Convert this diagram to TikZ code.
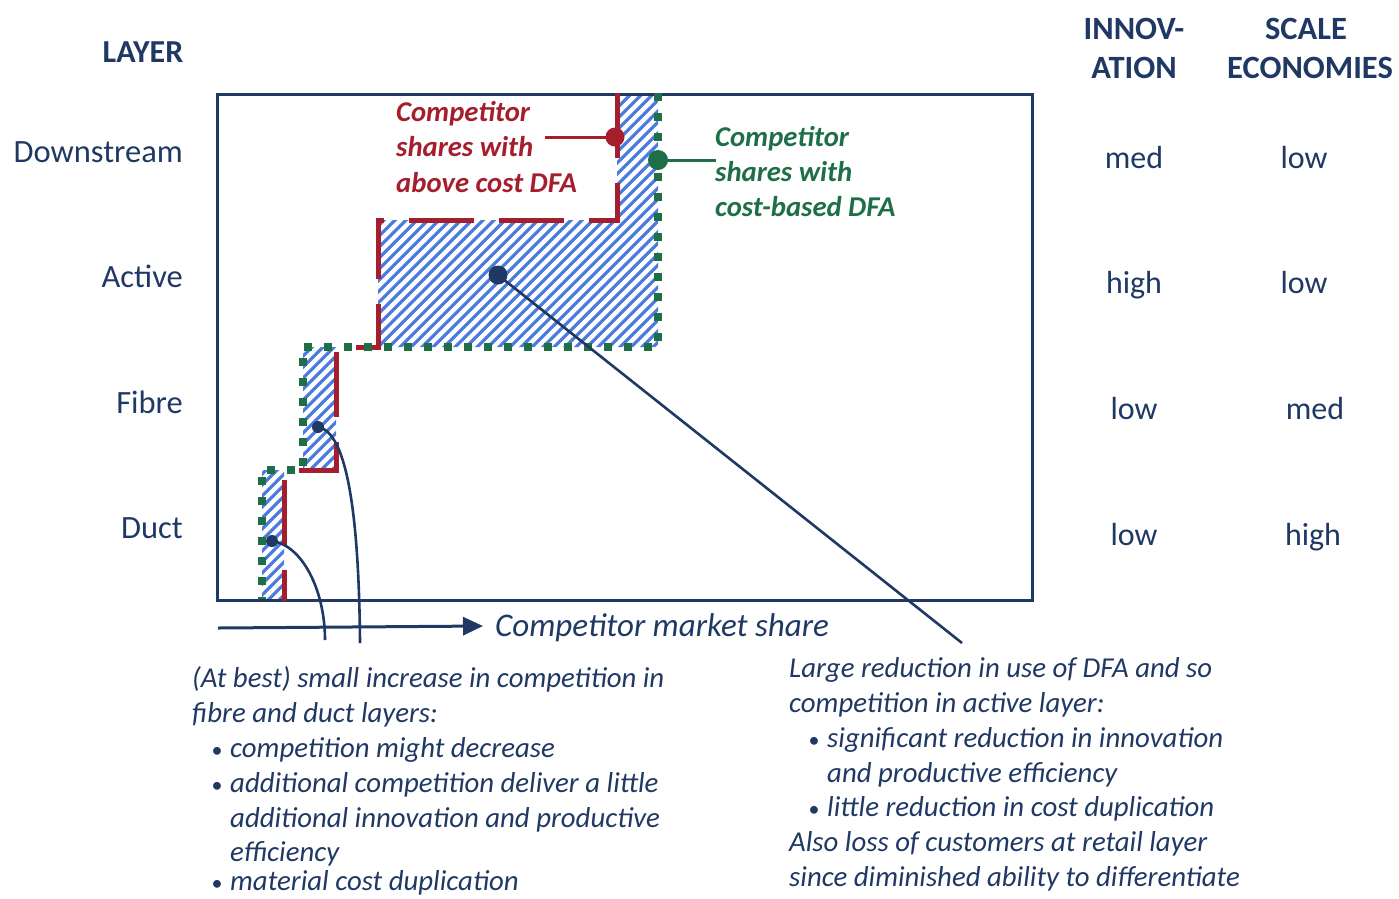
\documentclass[tikz,border=0pt]{standalone}
\usepackage{fontspec}
\setmainfont{Carlito}
\usetikzlibrary{arrows.meta}
\definecolor{navy}{HTML}{1F3864}
\definecolor{dred}{HTML}{A51E2D}
\definecolor{dgreen}{HTML}{1E6F47}
\definecolor{hatchblue}{HTML}{4A7BDD}
\newcommand{\fsz}[1]{\fontsize{#1}{#1}\selectfont}
\begin{document}
\begin{tikzpicture}[x=1pt,y=-1pt,
  txt/.style={inner sep=0pt, text=navy},
  lay/.style={txt, anchor=base east, font=\fsz{32.5}},
  hdr/.style={txt, anchor=base, font=\fsz{32.5}\bfseries},
  val/.style={txt, anchor=base, font=\fsz{32}},
  note/.style={txt, anchor=base west, font=\fsz{28.8}\itshape},
  bul/.style={txt, anchor=base, font=\fsz{22}},
  redlab/.style={inner sep=0pt, text=dred, anchor=base west, font=\fsz{28.7}\bfseries\itshape},
  greenlab/.style={inner sep=0pt, text=dgreen, anchor=base west, font=\fsz{28.7}\bfseries\itshape},
  hatchline/.style={draw=hatchblue, line width=3.2pt},
  redpath/.style={draw=dred, line width=5pt, dash pattern=on 65pt off 25pt},
  greenpath/.style={draw=dgreen, line width=8pt, dash pattern=on 8pt off 12pt},
  dotnode/.style={circle, inner sep=0pt, minimum size=#1},
  conn/.style={draw=navy, line width=2.6pt}
]
\useasboundingbox (0,0) rectangle (1399,898);

% hatched region
\begin{scope}
\clip (262,599) -- (262,470) -- (303,470) -- (303,347) -- (658,347) -- (658,93) -- (617,93) -- (617,220) -- (378,220) -- (378,347) -- (336,347) -- (336,470) -- (284,470) -- (284,599) -- cycle;
\foreach \i in {-280,-269,...,650} \draw[hatchline] (\i,620) -- (\i+540,80);
\end{scope}

% main frame
\node[draw=navy, line width=3pt, inner sep=0pt, minimum width=815pt, minimum height=506pt, anchor=north west] (frame) at (216,93) {};

% staircase boundaries
\path[redpath] (617,93) -- (617,220) -- (378,220) -- (378,347) -- (336,347) -- (336,470) -- (284,470) -- (284,601);
\path[greenpath] (658,93) -- (658,347) -- (303,347) -- (303,470) -- (262,470) -- (262,599);

% red label and pointer
\node[redlab] (r1) at (396,121) {Competitor};
\node[redlab] (r2) at (396,156) {shares with};
\node[redlab] (r3) at (396,192) {above cost DFA};
\node[dotnode=19pt, fill=dred] (rdot) at (615,137) {};
\coordinate (rend) at (545,137);
\draw[draw=dred, line width=3pt] (rdot.center) -- (rend);

% green label and pointer
\node[greenlab] (g1) at (715,146) {Competitor};
\node[greenlab] (g2) at (715,181) {shares with};
\node[greenlab] (g3) at (715,216) {cost-based DFA};
\node[dotnode=20pt, fill=dgreen] (gdot) at (658,160) {};
\coordinate (gend) at (716,160);
\draw[draw=dgreen, line width=3pt] (gdot.center) -- (gend);

% navy pointers
\node[dotnode=19pt, fill=navy] (d1) at (498,275) {};
\coordinate (e1) at (962,643);
\draw[conn] (d1.center) -- (e1);
\node[dotnode=12pt, fill=navy] (d2) at (318,427) {};
\coordinate (e2) at (360,643);
\draw[conn] (d2.center) .. controls (348,432) and (359,520) .. (e2);
\node[dotnode=12pt, fill=navy] (d3) at (272,541) {};
\coordinate (e3) at (325,640);
\draw[conn] (d3.center) .. controls (302,545) and (325,590) .. (e3);

% axis arrow
\coordinate (a0) at (218,628);
\node[txt, anchor=base west, font=\fsz{33}\itshape] (axl) at (495,636) {Competitor market share};
\coordinate (a1) at (483,626);
\draw[navy, line width=3pt, -{Triangle[length=20pt, width=18pt]}] (a0) -- (a1);

% layer labels
\node[txt, anchor=base, font=\fsz{32}\bfseries] (layer) at (143,62) {LAYER};
\node[lay] (ds) at (183,162) {Downstream};
\node[lay] (ac) at (183,287) {Active};
\node[lay] (fi) at (183,413) {Fibre};
\node[lay] (du) at (183,538) {Duct};

% right columns
\node[hdr] (h1a) at (1134,39) {INNOV-};
\node[hdr] (h1b) at (1134,78) {ATION};
\node[hdr] (h2a) at (1306,39) {SCALE};
\node[hdr] (h2b) at (1310,78) {ECONOMIES};
\node[val] (v11) at (1134,168) {med};
\node[val] (v12) at (1304,168) {low};
\node[val] (v21) at (1134,293) {high};
\node[val] (v22) at (1304,293) {low};
\node[val] (v31) at (1134,419) {low};
\node[val] (v32) at (1315,419) {med};
\node[val] (v41) at (1134,545) {low};
\node[val] (v42) at (1313,545) {high};

% bottom-left note
\node[note] (l1) at (192,687) {(At best) small increase in competition in};
\node[note] (l2) at (192,722) {fibre and duct layers:};
\node[bul] (lb1) at (217,757) {\textbullet};
\node[note] (l3) at (230,757) {competition might decrease};
\node[bul] (lb2) at (217,792) {\textbullet};
\node[note] (l4) at (230,792) {additional competition deliver a little};
\node[note] (l5) at (230,827) {additional innovation and productive};
\node[note] (l6) at (230,861) {efficiency};
\node[bul] (lb3) at (217,890) {\textbullet};
\node[note] (l7) at (230,890) {material cost duplication};

% bottom-right note
\node[note] (m1) at (789,677) {Large reduction in use of DFA and so};
\node[note] (m2) at (789,712) {competition in active layer:};
\node[bul] (mb1) at (814,747) {\textbullet};
\node[note] (m3) at (827,747) {significant reduction in innovation};
\node[note] (m4) at (827,782) {and productive efficiency};
\node[bul] (mb2) at (814,816) {\textbullet};
\node[note] (m5) at (827,816) {little reduction in cost duplication};
\node[note] (m6) at (789,851) {Also loss of customers at retail layer};
\node[note] (m7) at (789,886) {since diminished ability to differentiate};
\end{tikzpicture}
\end{document}
